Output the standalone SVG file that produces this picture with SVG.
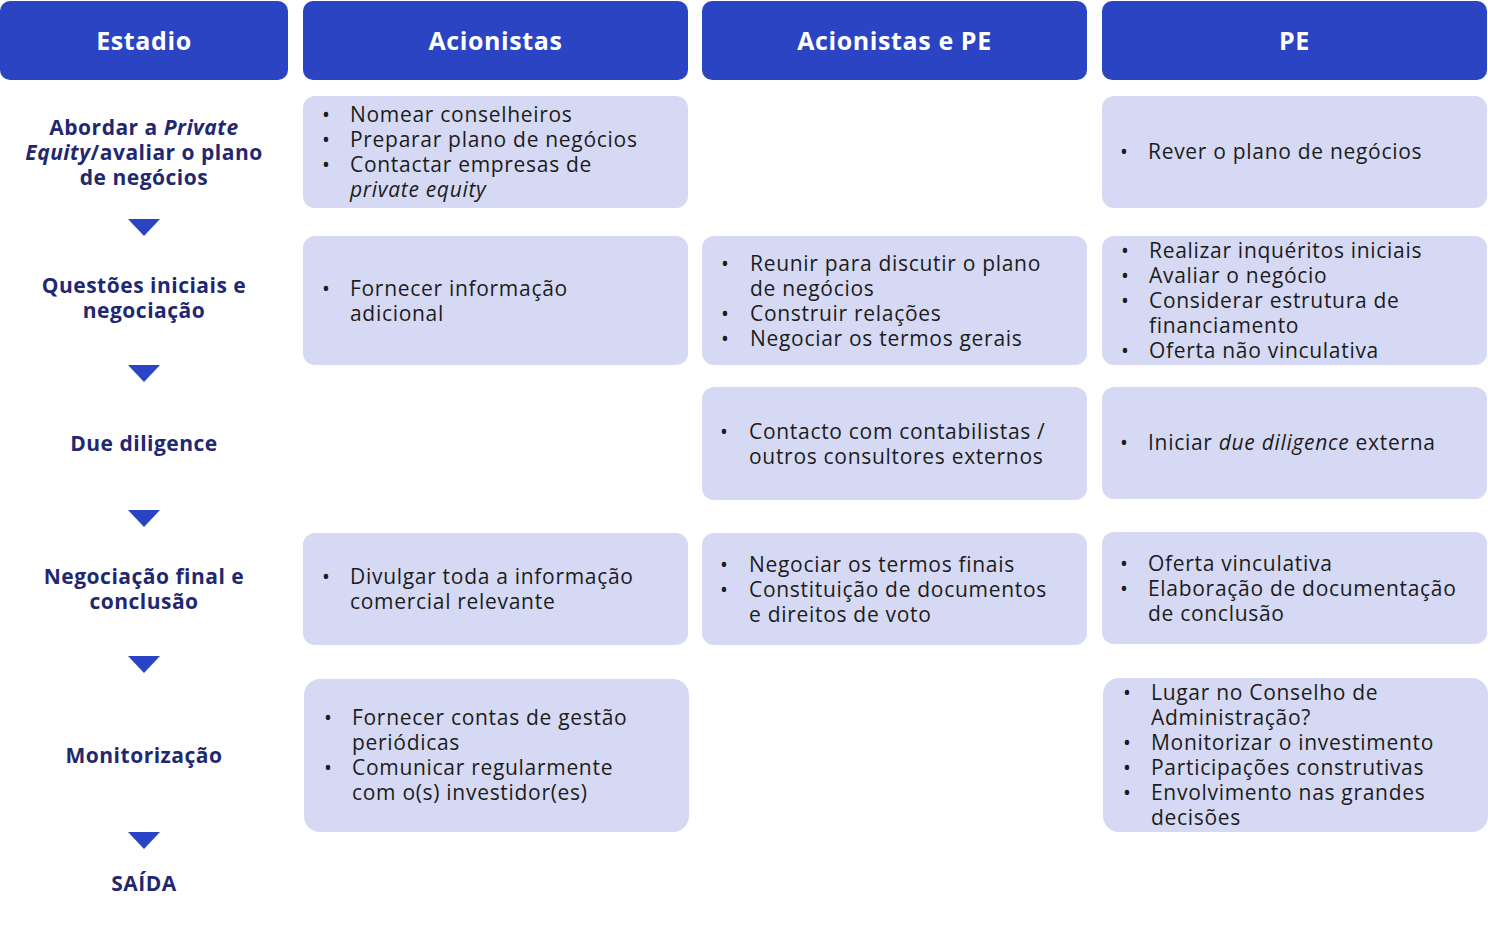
<svg xmlns="http://www.w3.org/2000/svg" width="1488" height="951" viewBox="0 0 1488 951">
<style>
.hdr{fill:#2B44C4}
.hdrt{fill:#fff;font-family:"Open Sans","Liberation Sans",sans-serif;font-weight:700;font-size:25px;letter-spacing:0.6px;text-anchor:middle}
.box{fill:#D6D9F3}
.t{fill:#1c1c1c;font-family:"Open Sans","Liberation Sans",sans-serif;font-size:21px;letter-spacing:0.7px}
.lbl{fill:#1F2870;font-family:"Open Sans","Liberation Sans",sans-serif;font-weight:700;font-size:21px;letter-spacing:0.5px;text-anchor:middle}
.tri{fill:#2B44C4}
.i{font-style:italic}
</style>
<rect width="1488" height="951" fill="#fff"/>
<g id="headers">
<g id="h-estadio"><rect class="hdr" x="0" y="1" width="288" height="79" rx="10"/><text class="hdrt" x="144" y="50">Estadio</text></g>
<g id="h-acionistas"><rect class="hdr" x="303" y="1" width="385" height="79" rx="10"/><text class="hdrt" x="495.5" y="50">Acionistas</text></g>
<g id="h-acionistas-pe"><rect class="hdr" x="702" y="1" width="385" height="79" rx="10"/><text class="hdrt" x="894.5" y="50">Acionistas e PE</text></g>
<g id="h-pe"><rect class="hdr" x="1102" y="1" width="385" height="79" rx="10"/><text class="hdrt" x="1294.5" y="50">PE</text></g>
</g>
<g id="stages">
<g id="s1"><text class="lbl"><tspan x="144" y="135">Abordar a <tspan class="i">Private</tspan></tspan><tspan x="144" y="160"><tspan class="i">Equity</tspan>/avaliar o plano</tspan><tspan x="144" y="185">de negócios</tspan></text></g>
<g id="s2"><text class="lbl"><tspan x="144" y="293">Questões iniciais e</tspan><tspan x="144" y="318">negociação</tspan></text></g>
<g id="s3"><text class="lbl" x="144" y="451">Due diligence</text></g>
<g id="s4"><text class="lbl"><tspan x="144" y="584">Negociação final e</tspan><tspan x="144" y="609">conclusão</tspan></text></g>
<g id="s5"><text class="lbl" x="144" y="763">Monitorização</text></g>
<g id="s6"><text class="lbl" x="144" y="891">SAÍDA</text></g>
</g>
<g id="connectors">
<polygon class="tri" points="128,219 160,219 144,236"/>
<polygon class="tri" points="128,365 160,365 144,382"/>
<polygon class="tri" points="128,510 160,510 144,527"/>
<polygon class="tri" points="128,656 160,656 144,673"/>
<polygon class="tri" points="128,832 160,832 144,849"/>
</g>
<g id="r1c2"><rect class="box" x="303" y="96" width="385" height="112" rx="12"/>
<text class="t"><tspan x="322" y="122">•</tspan><tspan x="350" y="122">Nomear conselheiros</tspan><tspan x="322" y="147">•</tspan><tspan x="350" y="147">Preparar plano de negócios</tspan><tspan x="322" y="172">•</tspan><tspan x="350" y="172">Contactar empresas de</tspan><tspan class="i" x="350" y="197">private equity</tspan></text></g>
<g id="r1c4"><rect class="box" x="1102" y="96" width="385" height="112" rx="12"/>
<text class="t"><tspan x="1120" y="159">•</tspan><tspan x="1148" y="159">Rever o plano de negócios</tspan></text></g>
<g id="r2c2"><rect class="box" x="303" y="236" width="385" height="129" rx="12"/>
<text class="t"><tspan x="322" y="296">•</tspan><tspan x="350" y="296">Fornecer informação</tspan><tspan x="350" y="321">adicional</tspan></text></g>
<g id="r2c3"><rect class="box" x="702" y="236" width="385" height="129" rx="12"/>
<text class="t"><tspan x="721" y="271">•</tspan><tspan x="750" y="271">Reunir para discutir o plano</tspan><tspan x="750" y="296">de negócios</tspan><tspan x="721" y="321">•</tspan><tspan x="750" y="321">Construir relações</tspan><tspan x="721" y="346">•</tspan><tspan x="750" y="346">Negociar os termos gerais</tspan></text></g>
<g id="r2c4"><rect class="box" x="1102" y="236" width="385" height="129" rx="12"/>
<text class="t"><tspan x="1121" y="258">•</tspan><tspan x="1149" y="258">Realizar inquéritos iniciais</tspan><tspan x="1121" y="283">•</tspan><tspan x="1149" y="283">Avaliar o negócio</tspan><tspan x="1121" y="308">•</tspan><tspan x="1149" y="308">Considerar estrutura de</tspan><tspan x="1149" y="333">financiamento</tspan><tspan x="1121" y="358">•</tspan><tspan x="1149" y="358">Oferta não vinculativa</tspan></text></g>
<g id="r3c3"><rect class="box" x="702" y="387" width="385" height="113" rx="12"/>
<text class="t"><tspan x="720" y="439">•</tspan><tspan x="749" y="439">Contacto com contabilistas /</tspan><tspan x="749" y="464">outros consultores externos</tspan></text></g>
<g id="r3c4"><rect class="box" x="1102" y="387" width="385" height="112" rx="12"/>
<text class="t"><tspan x="1120" y="450">•</tspan><tspan x="1148" y="450">Iniciar <tspan class="i">due diligence</tspan> externa</tspan></text></g>
<g id="r4c2"><rect class="box" x="303" y="533" width="385" height="112" rx="12"/>
<text class="t"><tspan x="322" y="584">•</tspan><tspan x="350" y="584">Divulgar toda a informação</tspan><tspan x="350" y="609">comercial relevante</tspan></text></g>
<g id="r4c3"><rect class="box" x="702" y="533" width="385" height="112" rx="12"/>
<text class="t"><tspan x="720" y="572">•</tspan><tspan x="749" y="572">Negociar os termos finais</tspan><tspan x="720" y="597">•</tspan><tspan x="749" y="597">Constituição de documentos</tspan><tspan x="749" y="622">e direitos de voto</tspan></text></g>
<g id="r4c4"><rect class="box" x="1102" y="532" width="385" height="112" rx="12"/>
<text class="t"><tspan x="1120" y="571">•</tspan><tspan x="1148" y="571">Oferta vinculativa</tspan><tspan x="1120" y="596">•</tspan><tspan x="1148" y="596">Elaboração de documentação</tspan><tspan x="1148" y="621">de conclusão</tspan></text></g>
<g id="r5c2"><rect class="box" x="304" y="679" width="385" height="153" rx="16"/>
<text class="t"><tspan x="324" y="725">•</tspan><tspan x="352" y="725">Fornecer contas de gestão</tspan><tspan x="352" y="750">periódicas</tspan><tspan x="324" y="775">•</tspan><tspan x="352" y="775">Comunicar regularmente</tspan><tspan x="352" y="800">com o(s) investidor(es)</tspan></text></g>
<g id="r5c4"><rect class="box" x="1103" y="678" width="385" height="154" rx="16"/>
<text class="t"><tspan x="1123" y="700">•</tspan><tspan x="1151" y="700">Lugar no Conselho de</tspan><tspan x="1151" y="725">Administração?</tspan><tspan x="1123" y="750">•</tspan><tspan x="1151" y="750">Monitorizar o investimento</tspan><tspan x="1123" y="775">•</tspan><tspan x="1151" y="775">Participações construtivas</tspan><tspan x="1123" y="800">•</tspan><tspan x="1151" y="800">Envolvimento nas grandes</tspan><tspan x="1151" y="825">decisões</tspan></text></g>
</svg>
